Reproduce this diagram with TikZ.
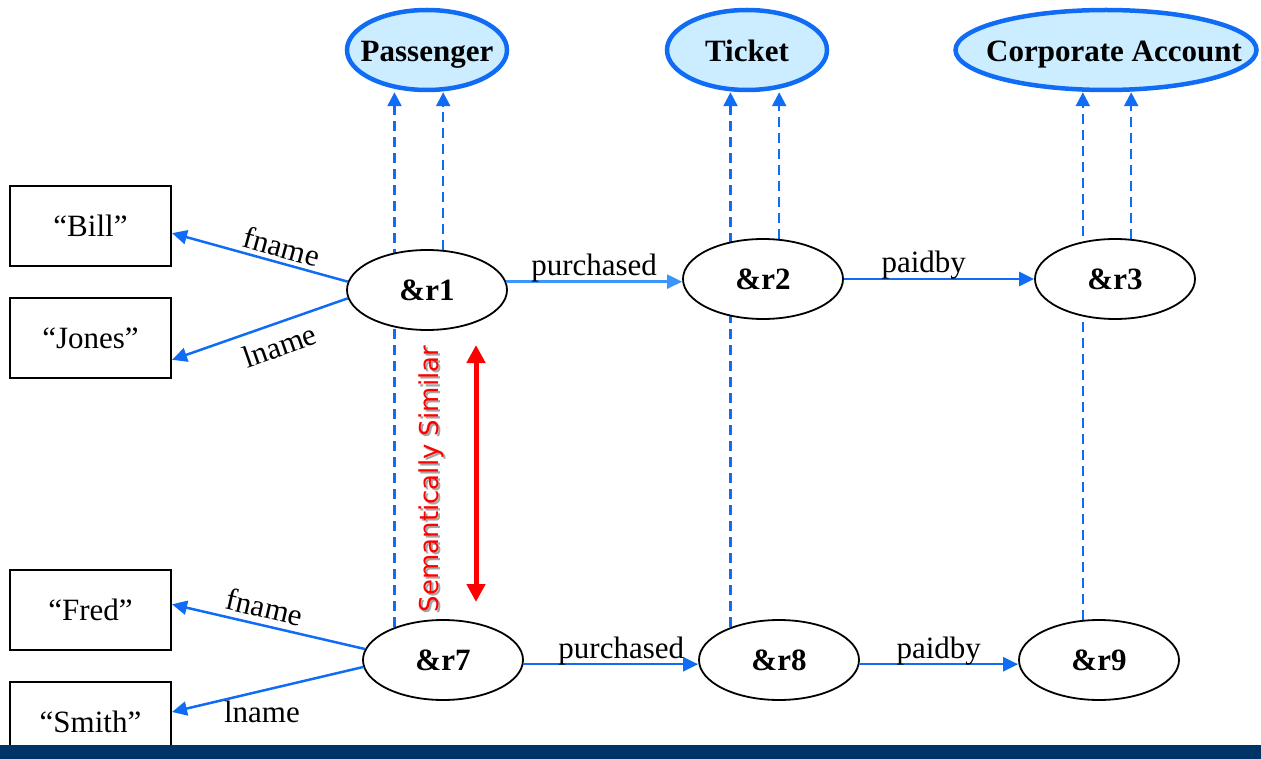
\documentclass[tikz,border=0pt]{standalone}
\usepackage{fontspec}
\setmainfont{Liberation Serif}
\newfontfamily\notefont{DejaVu Sans}
\usetikzlibrary{arrows.meta,calc,shapes.geometric}
\definecolor{linkblue}{RGB}{16,108,245}
\definecolor{lightlink}{RGB}{60,150,250}
\definecolor{classfill}{RGB}{204,236,255}
\definecolor{navybar}{RGB}{0,51,102}
\pgfdeclarelayer{behind}
\pgfsetlayers{behind,main}

\begin{document}
\begin{tikzpicture}[x=1pt,y=-1pt,
  every node/.style={font=\fontsize{31}{36}\selectfont},
  classnode/.style={ellipse, draw=linkblue, line width=4.5pt, fill=classfill,
    minimum width=160pt, minimum height=80pt, inner sep=0pt},
  classtext/.style={font=\fontsize{31}{36}\selectfont\bfseries, inner sep=0pt,
    anchor=base, yshift=-12pt},
  resnode/.style={ellipse, draw=black, line width=1.8pt, fill=white,
    minimum width=160pt, minimum height=80pt, inner sep=0pt,
    font=\fontsize{31}{36}\selectfont\bfseries},
  litnode/.style={rectangle, draw=black, line width=2pt, fill=white,
    minimum width=161pt, minimum height=80pt, inner sep=0pt},
  propedge/.style={draw=linkblue, line width=2.5pt, -{Triangle[length=15pt,width=14pt]}},
  typeedge/.style={draw=linkblue, line width=2.5pt, dash pattern=on 10pt off 6pt,
    -{Triangle[length=14pt,width=14pt]}},
  elabel/.style={font=\fontsize{31}{36}\selectfont, inner sep=1pt},
]
\useasboundingbox (0,0) rectangle (1261,759);

% class ellipses
\node[classnode] (Passenger) at (427,50) {};
\node[classtext] (PassengerText) at (Passenger.center) {Passenger};
\node[classnode] (Ticket) at (747,50) {};
\node[classtext] (TicketText) at (Ticket.center) {Ticket};
\node[classnode, minimum width=301pt] (Corp) at (1106,50) {};
\node[classtext, xshift=8pt] (CorpText) at (Corp.center) {Corporate Account};

% resources
\node[resnode] (r1) at (427,290) {\&r1};
\node[resnode] (r2) at (763,279) {\&r2};
\node[resnode] (r3) at (1115,279) {\&r3};
\node[resnode] (r7) at (443,660) {\&r7};
\node[resnode] (r8) at (779,660) {\&r8};
\node[resnode] (r9) at (1099,660) {\&r9};

% literal values
\node[litnode] (Bill) at (90.5,226) {“Bill”};
\node[litnode] (Jones) at (90.5,338) {“Jones”};
\node[litnode] (Fred) at (90.5,610) {“Fred”};
\node[litnode] (Smith) at (90.5,722) {“Smith”};

% type links, running behind the resource ellipses
\begin{pgfonlayer}{behind}
  \draw[typeedge] (r7.146) -- (r7.146 |- Passenger.south);
  \draw[typeedge] (r1.68) -- (r1.68 |- Passenger.south);
  \draw[typeedge] (r8.146) -- (r8.146 |- Ticket.south);
  \draw[typeedge] (r2.68) -- (r2.68 |- Ticket.south);
  \draw[typeedge] (r9.112) -- (r9.112 |- Corp.south);
  \draw[typeedge] (r3.68) -- (r3.68 |- Corp.south);
\end{pgfonlayer}

% properties of r1
\draw[propedge] (r1.174) -- (Bill.-5.7)
  node[elabel, sloped, above, inner sep=4pt, pos=0.4] (fnameA) {fname};
\draw[propedge] (r1.186) -- (Jones.-15.3)
  node[elabel, sloped, below, inner sep=10pt, pos=0.43] (lnameA) {lname};
\draw[propedge, draw=lightlink] (r1.6) -- (r1.6 -| r2.west)
  node[elabel, pos=0.5, anchor=base, yshift=6pt] (purchA) {purchased};
\draw[propedge] (r2.east) -- (r3.west)
  node[elabel, pos=0.42, anchor=base, yshift=6pt] (paidA) {paidby};

% properties of r7
\draw[propedge] (r7.172.5) -- (Fred.4.3)
  node[elabel, sloped, above, inner sep=6pt, pos=0.54] (fnameB) {fname};
\draw[propedge] (r7.185) -- (Smith.7.1)
  node[elabel, below, inner sep=9pt, pos=0.53] (lnameB) {lname};
\draw[propedge] (r7.-3) -- (r7.-3 -| r8.west)
  node[elabel, pos=0.56, anchor=base, yshift=6pt] (purchB) {purchased};
\draw[propedge] (r8.-3) -- (r8.-3 -| r9.west)
  node[elabel, pos=0.5, anchor=base, yshift=6pt] (paidB) {paidby};

% similarity marker
\coordinate (simTop) at (476,345);
\coordinate (simBot) at (476,602);
\draw[red, line width=5pt, {Triangle[length=18pt,width=18pt]}-{Triangle[length=18pt,width=18pt]}]
  (simTop) -- (simBot);
\node[rotate=90, text=black!35, font=\notefont\fontsize{26}{30}\selectfont]
  (simShadow) at (433,481) {Semantically Similar};
\node[rotate=90, text=red, font=\notefont\fontsize{26}{30}\selectfont]
  (simText) at (431,479) {Semantically Similar};

% footer band
\fill[navybar] (0,745) rectangle (1261,759);
\end{tikzpicture}
\end{document}
